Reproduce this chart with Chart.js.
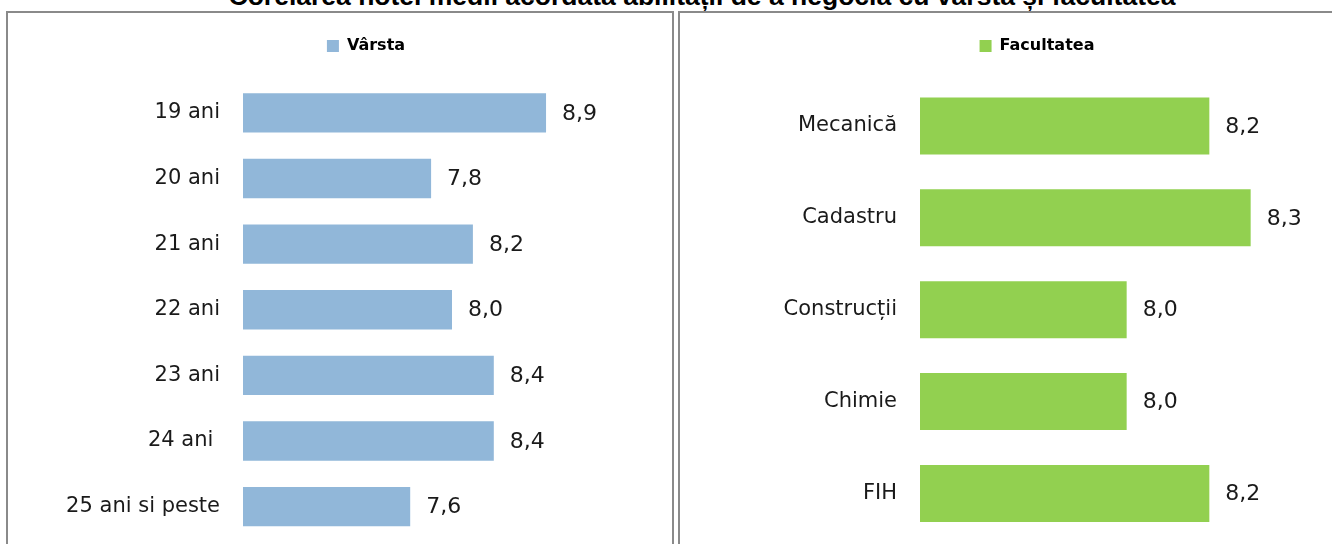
<!DOCTYPE html>
<html>
<head>
<meta charset="utf-8">
<script src="https://cdn.jsdelivr.net/npm/chart.js@4.4.1/dist/chart.umd.min.js"></script>
<style>
  html, body { margin: 0; padding: 0; background: #fff; overflow: hidden; }
  body { width: 1332px; height: 544px; position: relative; }
  #title {
    position: absolute; left: 0; top: -17px; width: 1404px; text-align: center;
    font: bold 26.5px "Liberation Sans", Arial, sans-serif; color: #000; line-height: 26.5px;
    white-space: nowrap;
  }
  .panel { position: absolute; border: 2px solid #8a8a8a; box-sizing: border-box; }
  #leftPanel { left: 6px; top: 11px; width: 668px; height: 560px; }
  #rightPanel { left: 678px; top: 11px; width: 680px; height: 560px; }
  canvas { position: absolute; }
  #ageChart { left: 8px; top: 13px; }
  #facChart { left: 680px; top: 13px; }
</style>
</head>
<body>
<div id="title">Corelarea notei medii acordată abilității de a negocia cu vârsta și facultatea</div>
<div class="panel" id="leftPanel"></div>
<div class="panel" id="rightPanel"></div>
<canvas id="ageChart" width="664" height="562"></canvas>
<canvas id="facChart" width="652" height="562"></canvas>
<script>
const ageLabels = ["19 ani", "20 ani", "21 ani", "22 ani", "23 ani", "24 ani ", "25 ani si peste"];
const ageValues = [8.9, 7.8, 8.2, 8.0, 8.4, 8.4, 7.6];
const facLabels = ["Mecanică", "Cadastru", "Construcții", "Chimie", "FIH"];
const facValues = [8.2, 8.3, 8.0, 8.0, 8.2];

const tickFont = { family: "DejaVu Sans", size: 21 };

// value labels with decimal comma, right of each bar
const valueLabels = {
  id: "valueLabels",
  afterDatasetsDraw(chart) {
    const ctx = chart.ctx;
    ctx.save();
    ctx.font = "22px 'DejaVu Sans'";
    ctx.fillStyle = "#1a1a1a";
    ctx.textAlign = "left";
    ctx.textBaseline = "middle";
    chart.getDatasetMeta(0).data.forEach((bar, i) => {
      const v = chart.data.datasets[0].data[i];
      ctx.fillText(v.toFixed(1).replace(".", ","), bar.x + 16, bar.y + 1);
    });
    ctx.restore();
  },
};

// extra gap below the legend, and shift it sideways
const legendTweak = {
  id: "legendTweak",
  beforeInit(chart) {
    const fit = chart.legend.fit;
    chart.legend.fit = function () {
      fit.bind(chart.legend)();
      this.height += chart.options.plugins.legendTweak.gap;
    };
  },
  afterLayout(chart) {
    const dx = chart.options.plugins.legendTweak.dx;
    chart.legend.left += dx;
    chart.legend.right += dx;
  },
};

function makeChart(id, labels, values, color, opts) {
  const ctx = document.getElementById(id).getContext("2d");
  return new Chart(ctx, {
    type: "bar",
    data: {
      labels: labels,
      datasets: [
        {
          label: opts.name,
          data: values,
          backgroundColor: color,
          borderWidth: 0,
          barPercentage: opts.barPct,
          categoryPercentage: 1,
        },
      ],
    },
    options: {
      indexAxis: "y",
      responsive: false,
      animation: false,
      layout: { padding: { left: 0, right: opts.padR, top: 15, bottom: 4 } },
      scales: {
        x: { display: false, min: opts.min, max: opts.max },
        y: {
          grid: { display: false, drawTicks: false },
          border: { display: false },
          ticks: { font: tickFont, color: "#1a1a1a", padding: 23 },
          afterFit: function (axis) {
            axis.width = opts.axisW;
          },
        },
      },
      plugins: {
        legend: {
          display: true,
          position: "top",
          labels: {
            boxWidth: 12,
            boxHeight: 12,
            padding: 10,
            color: "#000",
            font: { family: "DejaVu Sans", size: 16, weight: "bold" },
          },
        },
        legendTweak: { gap: 16, dx: opts.legendDx },
        tooltip: { enabled: false },
      },
    },
    plugins: [valueLabels, legendTweak],
  });
}

function initializeCharts() {
  makeChart("ageChart", ageLabels, ageValues, "#91b7d9", {
    name: "Vârsta", barPct: 0.6, min: 6, max: 10,
    padR: 11, axisW: 235, legendDx: 31.5,
  });
  makeChart("facChart", facLabels, facValues, "#92d050", {
    name: "Facultatea", barPct: 0.62, min: 7.5, max: 8.4,
    padR: 40, axisW: 240, legendDx: 51,
  });
}

if (document.readyState === "loading") {
  document.addEventListener("DOMContentLoaded", initializeCharts);
} else {
  initializeCharts();
}
</script>
</body>
</html>
